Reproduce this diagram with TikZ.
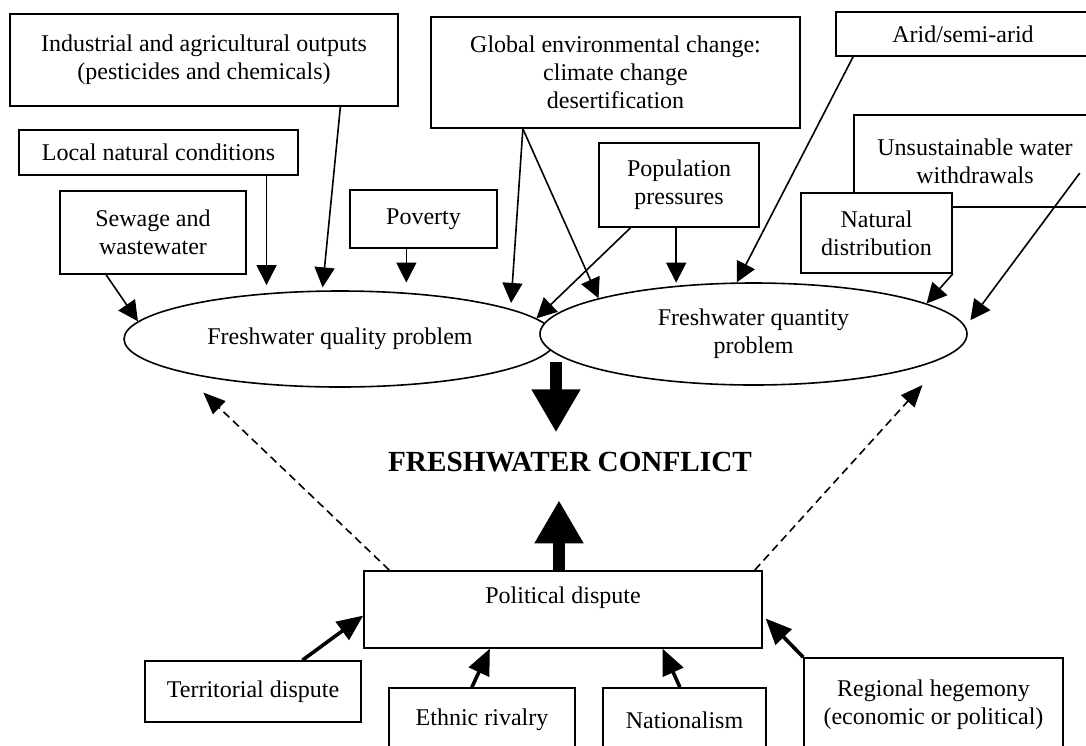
\documentclass[tikz,border=0pt]{standalone}
\usepackage{fontspec}
\setmainfont{Liberation Serif}
\usetikzlibrary{arrows.meta,shapes.geometric,calc}

\tikzset{
    box/.style={draw, fill=white, line width=0.8pt, align=center, inner sep=2pt},
    bubble/.style={ellipse, draw, fill=white, line width=0.8pt, align=center, inner sep=0pt},
    arrow/.style={-{Triangle[length=10pt,width=10pt]}, line width=0.8pt},
    boldarrow/.style={-{Triangle[length=13pt,width=11pt]}, line width=1.8pt},
    dasharrow/.style={-{Triangle[length=11pt,width=9pt]}, line width=0.8pt, dash pattern=on 4pt off 2.5pt},
    bigarrow/.style={-{Triangle[length=21.5pt,width=23pt]}, line width=6pt}
}

\begin{document}
\begin{tikzpicture}[x=0.5pt, y=-0.5pt, font=\fontsize{12}{14}\selectfont]

        % Fix the size of the picture
        \useasboundingbox (0,0) rectangle (1086,745);

        % Boxes above the quality problem
        \node[box, minimum width=194pt, minimum height=46pt] (indust) at (204,60) {Industrial and agricultural outputs\\(pesticides and chemicals)};
        \node[box, minimum width=139.5pt, minimum height=22.5pt] (localnat) at (158.5,152.5) {Local natural conditions};
        \node[box, minimum width=93pt, minimum height=41.5pt] (sewage) at (153,232.5) {Sewage and\\wastewater};
        \node[box, minimum width=73.5pt, minimum height=29pt] (poverty) at (423.5,219) {Poverty};

        % Boxes feeding both problems
        \node[box, minimum width=184.5pt, minimum height=55.5pt] (globalenv) at (615.5,72.5) {Global environmental change:\\climate change\\desertification};
        \node[box, minimum width=80pt, minimum height=42pt] (population) at (679,185) {Population\\pressures};

        % Boxes above the quantity problem
        \node[box, minimum width=127pt, minimum height=22pt] (arid) at (963,34) {Arid/semi-arid};
        \node[box, minimum width=121pt, minimum height=46pt] (unsus) at (975,161) {Unsustainable water\\withdrawals};
        \node[box, minimum width=75.5pt, minimum height=40pt] (natdist) at (876.5,233) {Natural\\distribution};

        % The two problems
        \node[bubble, minimum width=216pt, minimum height=48pt] (quality) at (340,339) {Freshwater quality problem};
        \node[bubble, minimum width=213.5pt, minimum height=51pt] (quantity) at (753.5,334) {Freshwater quantity\\problem};

        % The conflict
        \node[font=\bfseries\fontsize{14.6}{17}\selectfont, inner sep=0pt] (conflict) at (570,462) {FRESHWATER CONFLICT};

        % Political dispute and its causes
        \node[box, inner sep=0pt, minimum width=199pt, text height=16.5pt, text depth=22pt, anchor=north] (political) at (563,570) {Political dispute};
        \node[box, minimum width=108pt, minimum height=30.5pt] (territorial) at (253,691.5) {Territorial dispute};
        \node[box, minimum width=93pt, minimum height=32pt] (ethnic) at (482,720) {Ethnic rivalry};
        \node[box, minimum width=81.5pt, minimum height=32pt] (nationalism) at (684.5,720) {Nationalism};
        \node[box, minimum width=129.5pt, minimum height=47pt] (regional) at (933.5,705) {Regional hegemony\\(economic or political)};

        % Arrows into the quality problem
        \draw[arrow] ($(sewage.south west)!0.25!(sewage.south east)$) -- (quality.175);
        \draw[arrow, shorten >=4pt] (localnat.south -| quality.148) -- (quality.148);
        \draw[arrow, shorten >=1.5pt] ($(indust.south west)!0.85!(indust.south east)$) -- (quality.110);
        \draw[arrow, shorten >=5pt] (poverty.south -| quality.35) -- (quality.35);
        \draw[arrow, shorten >=3pt] ($(globalenv.south west)!0.25!(globalenv.south east)$) -- (quality.10);
        \draw[arrow] ($(population.south west)!0.2!(population.south east)$) -- (quality.6);

        % Arrows into the quantity problem
        \draw[arrow] ($(globalenv.south west)!0.25!(globalenv.south east)$) -- (quantity.167);
        \draw[arrow, shorten >=1.5pt] (population.south -| quantity.148) -- (quantity.148);
        \draw[arrow] ($(arid.south west)!0.07!(arid.south east)$) -- (quantity.108);
        \draw[arrow] (natdist.south east) -- (quantity.10);
        \draw[arrow, shorten >=4pt] ($(unsus.east)+(-17,12)$) -- (quantity.2);

        % Big arrows to the conflict
        \coordinate (meet) at (556,362);
        \draw[bigarrow, shorten >=9.7pt] (meet) -- (meet |- conflict.north);
        \draw[bigarrow, shorten >=14pt] ([xshift=-2pt]political.north) -- ([xshift=-2pt]political.north |- conflict.south);

        % Dashed feedback arrows
        \draw[dasharrow, shorten >=14.5pt] ($(political.north west)!0.065!(political.north east)$) -- (quality.192);
        \draw[dasharrow, shorten >=20.5pt] ($(political.north west)!0.98!(political.north east)$) -- (quantity.354);

        % Causes of the political dispute
        \draw[boldarrow] ($(territorial.north west)!0.727!(territorial.north east)$) -- ($(political.south west)!0.42!(political.north west)$);
        \draw[boldarrow] ($(ethnic.north west)!0.446!(ethnic.north east)$) -- ($(political.south west)!0.317!(political.south east)$);
        \draw[boldarrow] ($(nationalism.north west)!0.472!(nationalism.north east)$) -- ($(political.south west)!0.749!(political.south east)$);
        \draw[boldarrow, shorten >=2pt] (regional.north west) -- ($(political.south east)!0.42!(political.north east)$);

\end{tikzpicture}
\end{document}
